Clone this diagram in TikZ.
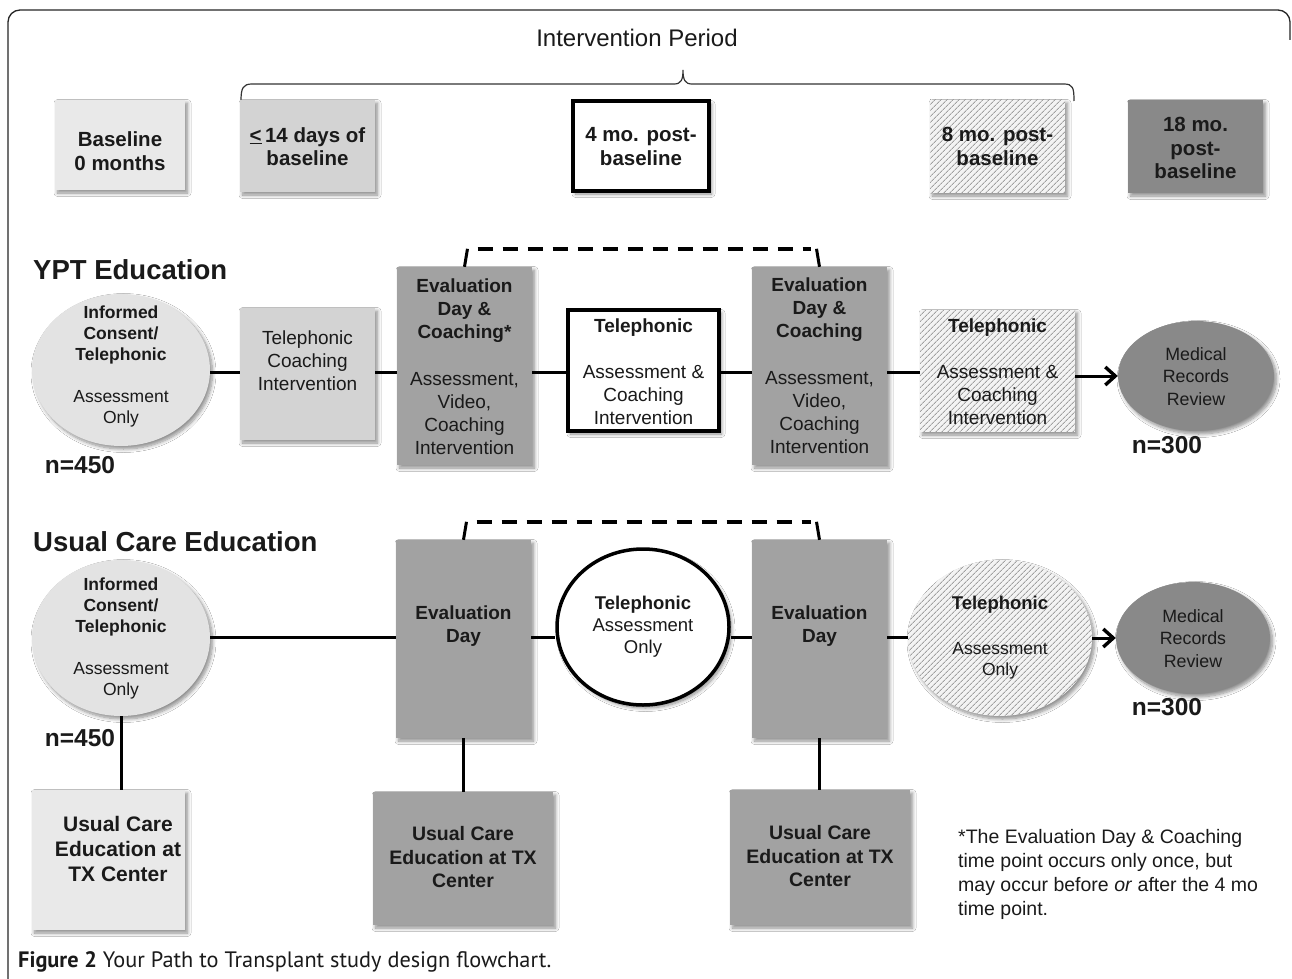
\documentclass[tikz,border=0pt]{standalone}
\usepackage{fontspec}
\setmainfont{Liberation Sans}
\newfontfamily\capfont{PT Sans}
\usetikzlibrary{shapes.geometric,shadows.blur,patterns.meta,arrows.meta}
\definecolor{cLight}{HTML}{E9E9E9}
\definecolor{cEll}{HTML}{E3E3E3}
\definecolor{cMidL}{HTML}{D3D3D3}
\definecolor{cMid}{HTML}{A2A2A2}
\definecolor{cDark}{HTML}{898989}
\definecolor{cHatchBg}{HTML}{F3F3F3}
\definecolor{cHatch}{HTML}{A0A0A0}
\definecolor{cText}{HTML}{1A1A1A}
\newcommand\fTop{\fontsize{20.5}{23.5}\selectfont\bfseries}
\newcommand\fBox{\fontsize{19}{23}\selectfont}
\newcommand\fEll{\fontsize{17.5}{21}\selectfont}
\newcommand\fMed{\fontsize{17.8}{22.5}\selectfont}
\newcommand\fHead{\fontsize{27.5}{30}\selectfont\bfseries}
\newcommand\fN{\fontsize{24.5}{26}\selectfont\bfseries}
\begin{document}
\begin{tikzpicture}[x=1pt,y=-1pt,
  softshadow/.style={blur shadow={shadow xshift=2.5pt,shadow yshift=-3pt,
    shadow blur radius=3.5pt,shadow blur steps=8,shadow opacity=45}},
  shbox/.style={rectangle, inner sep=0pt, draw=none, softshadow},
  shell/.style={ellipse, inner sep=0pt, draw=none, softshadow},
  hatchfill/.style={preaction={fill=cHatchBg},
    pattern={Lines[angle=45,distance=4pt,line width=0.9pt]}, pattern color=cHatch},
  blackframe/.style={draw=black, line width=3.5pt},
  txt/.style={align=center, inner sep=0pt, text=cText},
  conn/.style={line width=3pt, draw=black},
  arr/.style={conn, -{Straight Barb[length=10pt,width=18pt,line width=3.4pt]}},
  dashline/.style={line width=4.5pt, draw=black, dash pattern=on 15pt off 10pt},
  tickline/.style={line width=3pt, draw=black},
]
\useasboundingbox (0,0) rectangle (1292,979);
\fill[white] (0,0) rectangle (1292,979);

% frame
\draw[line width=1.3pt, black!85, rounded corners=12pt] (8,979) -- (8,10) -- (1290,10) -- (1290,40);

% title and brace
\node[inner sep=0pt, font=\fontsize{24}{26}\selectfont, text=cText] (title) at (637,38) {Intervention Period};
\draw[line width=1.2pt, black!80] (241,101) .. controls (241,88) and (243,84) .. (252,84) -- (674,84)
  .. controls (681,84) and (683,80) .. (683,70) .. controls (683,80) and (685,84) .. (692,84) -- (1064,84)
  .. controls (1073,84) and (1074,88) .. (1074,101);

% top legend row
\node[shbox, fill=cLight, minimum width=130pt, minimum height=90pt] (base) at (120,145) {};
\node[txt, font=\fTop] (baset) at (120,151) {Baseline\\0 months};
\node[shbox, fill=cMidL, minimum width=135pt, minimum height=92pt] (d14) at (307.5,146) {};
\node[txt, font=\fTop] (d14t) at (307.5,146.5) {\underline{<}\,14 days of\\baseline};
\node[shbox, fill=white, blackframe, minimum width=136pt, minimum height=90pt] (m4) at (641,146) {};
\node[txt, font=\fTop] (m4t) at (641,146.5) {4 mo. post-\\baseline};
\node[shbox, hatchfill, minimum width=135pt, minimum height=93pt] (m8) at (997.5,146.5) {};
\node[txt, font=\fTop] (m8t) at (997.5,146.5) {8 mo. post-\\baseline};
\node[shbox, fill=cDark, minimum width=135pt, minimum height=93pt] (m18) at (1195.5,146.5) {};
\node[txt, font=\fTop] (m18t) at (1195.5,148) {18 mo.\\post-\\baseline};

% YPT row
\node[anchor=west, inner sep=0pt, font=\fHead, text=cText] (h1) at (33,270) {YPT Education};
\node[shell, fill=cEll, minimum width=178pt, minimum height=152pt] (e1) at (121,370) {};
\node[txt, font=\fEll] (e1t) at (121,366.5) {\textbf{Informed}\\\textbf{Consent/}\\\textbf{Telephonic}\\[21pt]Assessment\\Only};
\node[inner sep=0pt, font=\fN, text=cText] (n1) at (80,465) {n=450};
\node[shbox, fill=cMidL, minimum width=135pt, minimum height=132pt] (tc) at (307.5,374) {};
\node[txt, font=\fBox] (tct) at (307.5,361) {Telephonic\\Coaching\\Intervention};
\node[shbox, fill=cMid, minimum width=135pt, minimum height=198pt] (ev1) at (464.5,366) {};
\node[txt, font=\fBox] (ev1t) at (464.5,366.5) {\textbf{Evaluation}\\\textbf{Day \&}\\\textbf{Coaching*}\\[24pt]Assessment,\\Video,\\Coaching\\Intervention};
\node[shbox, fill=white, blackframe, minimum width=151pt, minimum height=121pt] (t4) at (643.5,370.5) {};
\node[txt, font=\fBox] (t4t) at (643.5,371.5) {\textbf{Telephonic}\\[23pt]Assessment \&\\Coaching\\Intervention};
\node[shbox, fill=cMid, minimum width=135pt, minimum height=198pt] (ev2) at (819.5,366) {};
\node[txt, font=\fBox] (ev2t) at (819.5,365.5) {\textbf{Evaluation}\\\textbf{Day \&}\\\textbf{Coaching}\\[24pt]Assessment,\\Video,\\Coaching\\Intervention};
\node[shbox, hatchfill, minimum width=155pt, minimum height=122pt] (t8) at (997.5,371) {};
\node[txt, font=\fBox] (t8t) at (997.5,371.5) {\textbf{Telephonic}\\[23pt]Assessment \&\\Coaching\\Intervention};
\node[shell, fill=cDark, minimum width=156pt, minimum height=110pt] (med1) at (1196,376) {};
\node[txt, font=\fMed] (med1t) at (1196,376.5) {Medical\\Records\\Review};
\node[inner sep=0pt, font=\fN, text=cText] (n3) at (1167,445) {n=300};

\coordinate (r1) at (0,372);
\draw[conn] (e1.east |- r1) -- (tc.west |- r1);
\draw[conn] (tc.east |- r1) -- (ev1.west |- r1);
\draw[conn] (ev1.east |- r1) -- (t4.west |- r1);
\draw[conn] (t4.east |- r1) -- (ev2.west |- r1);
\draw[conn] (ev2.east |- r1) -- (t8.west |- r1);
\draw[arr] (t8.east |- med1.west) -- (med1.west);

\coordinate (da1) at ([xshift=3pt,yshift=18pt]ev1.north);
\coordinate (db1) at ([xshift=-3pt,yshift=18pt]ev2.north);
\draw[tickline] (ev1.north) -- (da1);
\draw[tickline] (ev2.north) -- (db1);
\draw[dashline] ([xshift=10pt]da1) -- ([xshift=-6pt]db1);

% Usual care row
\node[anchor=west, inner sep=0pt, font=\fHead, text=cText] (h2) at (33,542) {Usual Care Education};
\node[shell, fill=cEll, minimum width=178pt, minimum height=156pt] (e2) at (121,638) {};
\node[txt, font=\fEll] (e2t) at (121,638.5) {\textbf{Informed}\\\textbf{Consent/}\\\textbf{Telephonic}\\[21pt]Assessment\\Only};
\node[inner sep=0pt, font=\fN, text=cText] (n2) at (80,738) {n=450};
\node[shbox, fill=cMid, minimum width=135pt, minimum height=198pt] (uev1) at (463.5,639) {};
\node[txt, font=\fBox] (uev1t) at (463.5,626.5) {\textbf{Evaluation}\\\textbf{Day}};
\node[shell, fill=white, blackframe, minimum width=172pt, minimum height=156pt] (ut) at (643,627) {};
\node[txt, font=\fontsize{18.5}{22}\selectfont] (utt) at (643,627) {\textbf{Telephonic}\\Assessment\\Only};
\node[shbox, fill=cMid, minimum width=135pt, minimum height=198pt] (uev2) at (819.5,639) {};
\node[txt, font=\fBox] (uev2t) at (819.5,626.5) {\textbf{Evaluation}\\\textbf{Day}};
\node[shell, hatchfill, minimum width=184pt, minimum height=156pt] (uh) at (1000,638) {};
\node[txt, font=\fEll] (uht) at (1000,638) {{\fontsize{18.5}{21}\selectfont\textbf{Telephonic}}\\[24pt]Assessment\\Only};
\node[shell, fill=cDark, minimum width=154pt, minimum height=112pt] (med2) at (1193,638) {};
\node[txt, font=\fMed] (med2t) at (1193,638.5) {Medical\\Records\\Review};
\node[inner sep=0pt, font=\fN, text=cText] (n4) at (1167,707) {n=300};

\coordinate (r2) at (0,637);
\draw[conn] (e2.east |- r2) -- (uev1.west |- r2);
\draw[conn] (uev1.east |- r2) -- (ut.west |- r2);
\draw[conn] (ut.east |- r2) -- (uev2.west |- r2);
\draw[conn] (uev2.east |- r2) -- (uh.west |- r2);
\draw[arr] (uh.east |- med2.west) -- (med2.west);

\coordinate (da2) at ([xshift=3pt,yshift=18pt]uev1.north);
\coordinate (db2) at ([xshift=-3pt,yshift=18pt]uev2.north);
\draw[tickline] (uev1.north) -- (da2);
\draw[tickline] (uev2.north) -- (db2);
\draw[dashline] ([xshift=10pt]da2) -- ([xshift=-6pt]db2);

% bottom boxes
\node[shbox, fill=cLight, minimum width=153pt, minimum height=140pt] (ub1) at (108.5,860) {};
\node[txt, font=\fontsize{21}{25}\selectfont\bfseries] (ub1t) at (118,849) {Usual Care\\Education at\\TX Center};
\node[shbox, fill=cMid, minimum width=180pt, minimum height=133pt] (ub2) at (463,858.5) {};
\node[txt, font=\fontsize{19.5}{23.5}\selectfont\bfseries] (ub2t) at (463,857.5) {Usual Care\\Education at TX\\Center};
\node[shbox, fill=cMid, minimum width=180pt, minimum height=135pt] (ub3) at (820,857.5) {};
\node[txt, font=\fontsize{19.5}{23.5}\selectfont\bfseries] (ub3t) at (820,856.5) {Usual Care\\Education at TX\\Center};

\draw[conn] (e2.south) -- (e2.south |- ub1.north);
\draw[conn] (uev1.south) -- (uev1.south |- ub2.north);
\draw[conn] (uev2.south) -- (uev2.south |- ub3.north);

% footnote and caption
\node[anchor=north west, align=left, inner sep=0pt, text=cText, font=\fontsize{19.5}{24}\selectfont] (note) at (958,829)
  {*The Evaluation Day \& Coaching\\time point occurs only once, but\\may occur before \textit{or} after the 4 mo\\time point.};
\node[anchor=west, inner sep=0pt, text=cText, font=\capfont\fontsize{22.3}{24}\selectfont] (cap) at (18,962)
  {\textbf{Figure 2} Your Path to Transplant study design flowchart.};
\end{tikzpicture}
\end{document}
